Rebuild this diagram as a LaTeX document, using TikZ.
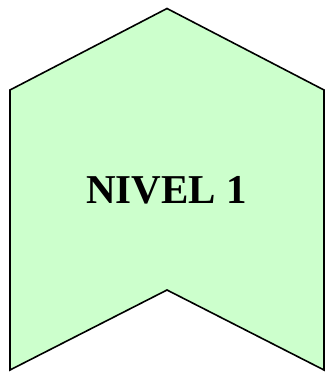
\documentclass[tikz,border=0pt]{standalone}
\usepackage{fontspec}
\setmainfont{Liberation Serif}
\definecolor{chevfill}{RGB}{204,255,204}
\tikzset{chev/.style={draw=black, line width=1.6pt, fill=chevfill, line join=miter}}
\begin{document}
\begin{tikzpicture}[x=1pt,y=1pt]
\useasboundingbox (0,0) rectangle (324,372);
\draw[chev] (10,2) -- (10,282) -- (167,363.5) -- (324,282) -- (324,2) -- (167,82) -- cycle;
\node[font=\bfseries\fontsize{41}{45}\selectfont, inner sep=0pt] (label) at (166.5,182) {NIVEL 1};
\end{tikzpicture}
\end{document}
